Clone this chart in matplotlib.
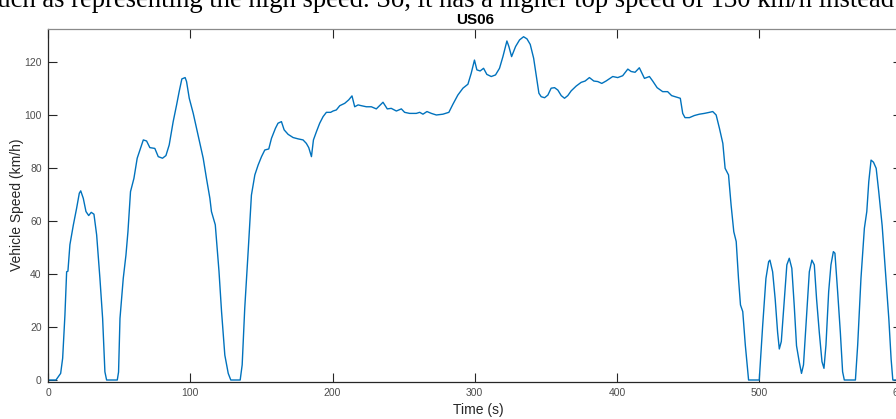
import matplotlib
matplotlib.use("Agg")
import matplotlib.pyplot as plt

plt.rcParams['font.family'] = ['Liberation Sans', 'DejaVu Sans']

# US06 speed trace
time_s = [0, 5.6, 8.9, 10.3, 11.9, 13.1, 14.0, 15.4, 17.8, 20.1, 22.0, 23.0, 24.8, 26.7, 28.6,
          30.4, 32.3, 34.2, 36.5, 38.4, 40.0, 41.2, 48.7, 49.6, 50.6, 52.9, 54.8, 56.2, 58.0,
          60.4, 62.7, 64.6, 67.0, 69.3, 71.6, 75.1, 77.5, 80.5, 82.9, 85.2, 88.0, 90.4, 92.2,
          94.1, 96.4, 97.4, 99.3, 102.1, 104.4, 106.7, 109.1, 111.4, 113.8, 114.9, 117.6,
          120.2, 122.0, 124.3, 126.7, 128.5, 135.1, 136.5, 138.3, 140.7, 143.0, 145.4, 147.7,
          150.1, 152.4, 155.2, 157.1, 159.9, 161.7, 164.1, 166.0, 168.8, 172.3, 175.8, 179.3,
          181.6, 183.3, 185.2, 186.6, 188.7, 191.0, 193.4, 195.7, 198.7, 200.4, 202.7, 205.1,
          208.6, 211.4, 213.7, 215.6, 218.0, 220.3, 223.8, 227.3, 230.8, 233.1, 235.5, 238.5,
          241.3, 244.9, 248.4, 250.7, 254.2, 258.9, 261.3, 263.6, 266.4, 269.5, 273.0, 277.6,
          281.8, 284.6, 288.1, 291.7, 295.2, 297.5, 299.8, 301.5, 303.8, 306.2, 308.5, 311.6,
          314.6, 317.4, 319.8, 322.6, 324.0, 325.9, 328.7, 331.5, 334.3, 336.7, 339.0, 341.4,
          343.2, 345.1, 346.7, 349.1, 351.4, 353.7, 356.1, 358.4, 360.8, 363.1, 365.4, 367.8,
          371.3, 374.8, 377.6, 380.6, 383.7, 386.5, 389.3, 392.3, 397.0, 400.5, 404.0, 407.6,
          409.9, 412.7, 415.7, 419.3, 422.8, 425.1, 428.2, 432.1, 435.6, 438.4, 444.5, 446.2,
          447.8, 450.9, 454.4, 457.9, 461.4, 465.0, 467.3, 469.7, 472.0, 474.4, 476.0, 478.4,
          480.2, 482.1, 483.8, 485.4, 486.8, 488.4, 490.2, 492.5, 500.0, 502.4, 504.7, 506.6,
          507.5, 509.4, 511.2, 512.9, 514.1, 515.5, 517.5, 519.4, 521.1, 522.9, 524.6, 526.2,
          528.1, 529.7, 531.1, 532.8, 535.2, 537.0, 538.7, 540.3, 542.2, 544.1, 545.5, 546.9,
          548.8, 550.4, 552.1, 553.2, 555.1, 557.0, 558.6, 559.8, 567.6, 569.2, 571.5, 573.9,
          575.6, 577.0, 578.6, 580.3, 582.2, 584.0, 586.4, 588.7, 591.1, 592.7, 593.9, 600.0]
speed_kmh = [0, 0, 2.5, 8.2, 24.5, 40.8, 41.0, 51.0, 58.4, 64.7, 70.4, 71.3, 68.5, 63.5, 62.0,
             63.2, 62.5, 54.7, 38.3, 23.2, 3.1, 0, 0, 3.0, 23.2, 38.3, 47.1, 55.9, 71.0,
             76.0, 83.6, 86.7, 90.5, 90.1, 87.6, 87.3, 84.2, 83.6, 84.6, 88.6, 97.4, 103.7, 108.7,
             113.5, 114.0, 112.5, 106.2, 100.5, 94.9, 89.2, 83.6, 76.0, 68.5, 63.5, 58.5,
             41.0, 25.8, 9.4, 2.5, 0, 0, 5.7, 27.0, 48.4, 69.7, 77.3, 81.0,
             84.2, 86.7, 87.1, 91.1, 94.9, 96.8, 97.4, 94.3, 92.6, 91.4, 90.9, 90.5,
             89.2, 87.6, 84.2, 90.5, 93.6, 96.8, 99.3, 100.9, 100.9, 101.4, 101.8, 103.4,
             104.3, 105.6, 107.1, 103.0, 103.7, 103.4, 103.0, 103.0, 102.2, 103.4, 104.7, 102.2,
             102.4, 101.4, 102.2, 100.9, 100.5, 100.5, 100.9, 100.2, 101.2, 100.5, 99.9, 100.2,
             100.9, 103.9, 107.4, 110.0, 111.5, 115.6, 120.6, 116.9, 116.5, 117.5, 115.2, 114.4,
             115.0, 117.5, 121.9, 127.8, 125.7, 121.9, 125.7, 128.2, 129.4, 128.6, 126.5, 121.3,
             115.0, 108.1, 106.8, 106.4, 107.4, 110.0, 110.2, 109.3, 107.2, 106.2, 107.2, 109.0,
             110.8, 112.2, 112.7, 114.0, 112.7, 112.5, 111.8, 112.7, 114.4, 114.0, 114.7, 117.2,
             116.3, 116.0, 117.7, 113.7, 114.4, 112.7, 110.2, 108.7, 108.7, 107.2, 106.2, 100.5,
             98.9, 98.9, 99.7, 100.2, 100.5, 100.9, 101.2, 99.9, 94.9, 89.2, 79.8, 77.3,
             66.0, 55.9, 52.2, 38.3, 28.3, 25.8, 13.2, 0, 0, 20.5, 38.3, 44.6,
             45.2, 40.8, 30.5, 18.0, 11.7, 14.5, 29.5, 43.4, 45.9, 42.1, 28.0, 12.9,
             6.9, 2.5, 5.7, 20.5, 40.8, 45.2, 43.4, 30.5, 18.0, 6.9, 4.4, 13.2,
             33.3, 43.4, 48.4, 47.8, 33.3, 18.0, 3.1, 0, 0, 13.2, 38.3, 57.2,
             63.5, 74.8, 82.9, 82.1, 79.8, 71.0, 58.2, 40.8, 23.0, 7.9, 0, 0]

x_ticks = [0, 100, 200, 300, 400, 500, 600]
y_ticks = [0, 20, 40, 60, 80, 100, 120]

fig = plt.figure(figsize=(8.96, 4.19), dpi=100)
# axes run past the right edge, like the cropped screenshot
ax = fig.add_axes([48 / 896, 37 / 419, 853.5 / 896, 352.7 / 419])

ax.plot(time_s, speed_kmh, color="#0072BD", lw=1.0)

ax.set_xlim(0, 600)
ax.set_ylim(-0.75, 132.2)
ax.set_xticks(x_ticks)
ax.set_yticks(y_ticks)

axis_gray = "#262626"
for side in ["left", "bottom"]:
    ax.spines[side].set_color(axis_gray)
    ax.spines[side].set_linewidth(0.9)
ax.spines["top"].set_color("#8a8a8a")
ax.spines["top"].set_linewidth(0.9)
ax.spines["right"].set_color(axis_gray)
ax.tick_params(direction="in", length=6.5, width=0.8, colors=axis_gray,
               labelsize=7.5, top=True, right=True, pad=4.5)
for lbl in ax.get_xticklabels() + ax.get_yticklabels():
    lbl.set_color("#4d4d4d")

ax.set_xlabel("Time (s)", fontsize=10, color=axis_gray)
ax.set_ylabel("Vehicle Speed (km/h)", fontsize=10, color=axis_gray)
ax.xaxis.set_label_coords((478 - 48) / 853.5, -(410 - 382) / 352.7)
ax.xaxis.label.set_va("center")
ax.yaxis.set_label_coords(-(48 - 17) / 853.5, (382 - 205) / 352.7)
ax.yaxis.label.set_va("center")

ax.set_title("US06", fontsize=11, fontweight="bold", color="black", pad=4)

# line of the surrounding document text, cut off at the top of the screenshot
doc = fig.text(-13 / 896, 1 - 7 / 419,
               "such as representing the high speed. So, it has a higher top speed of 130 km/h instead",
               family=["Liberation Serif", "DejaVu Serif"], fontsize=15, va="baseline", ha="left")
fig.canvas.draw()
w = doc.get_window_extent().width
doc.set_fontsize(15 * 911 / w)

fig.savefig("out.png", dpi=100)
